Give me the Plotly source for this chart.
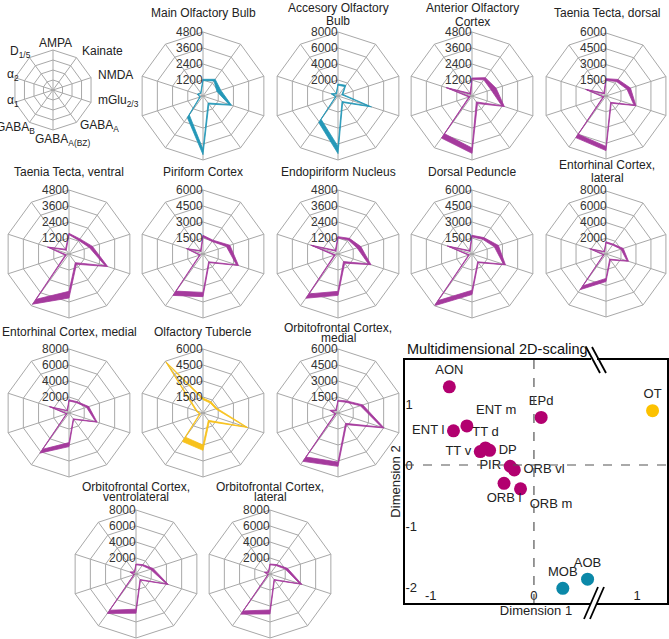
import plotly.graph_objects as go

W, H = 669, 639

RECEPTORS = ['AMPA', 'Kainate', 'NMDA', 'mGlu<sub>2/3</sub>', 'GABA<sub>A</sub>',
             'GABA<sub>A(BZ)</sub>', 'GABA<sub>B</sub>', 'α<sub>1</sub>', 'α<sub>2</sub>', 'D<sub>1/5</sub>']

# receptor densities, lower / upper edge of each band (order = RECEPTORS)
MOB_LO = [1150, 1400, 1100, 2050, 650, 4000, 1750, 200, 380, 250]
MOB_HI = [1250, 1550, 1400, 2250, 750, 4400, 2000, 260, 450, 300]
AOB_LO = [1350, 1450, 500, 4000, 850, 6300, 3600, 250, 700, 300]
AOB_HI = [1500, 1650, 650, 4400, 1000, 7200, 4100, 350, 900, 400]
AON_LO = [1250, 1500, 1500, 2350, 550, 3900, 3500, 150, 1900, 150]
AON_HI = [1350, 1700, 1900, 2550, 700, 4300, 3900, 250, 2050, 250]
TTD_LO = [1500, 1700, 2100, 2800, 750, 4800, 4500, 200, 1900, 250]
TTD_HI = [1650, 1950, 2450, 3000, 850, 5200, 4900, 300, 2050, 350]
TTV_LO = [1450, 1250, 1600, 2850, 800, 2800, 4200, 200, 1600, 350]
TTV_HI = [1550, 1400, 1850, 3050, 950, 3300, 4650, 300, 1700, 450]
PIR_LO = [1600, 1450, 2300, 3300, 900, 3600, 4300, 250, 1500, 300]
PIR_HI = [1750, 1600, 2650, 3500, 1000, 4000, 4800, 350, 1650, 400]
EPD_LO = [1200, 1300, 1500, 2400, 700, 2800, 3700, 200, 2000, 250]
EPD_HI = [1300, 1450, 1800, 2600, 850, 3100, 4100, 300, 2150, 350]
DP_LO = [1600, 1700, 2200, 3100, 900, 3400, 5400, 250, 2300, 300]
DP_HI = [1750, 1900, 2600, 3300, 1000, 3800, 6000, 350, 2450, 400]
ENTL_LO = [1400, 1400, 2000, 2800, 800, 3100, 5000, 250, 2000, 300]
ENTL_HI = [1550, 1550, 2300, 3000, 950, 3500, 5600, 350, 2200, 400]
ENTM_LO = [1500, 1600, 2300, 3500, 900, 3700, 5600, 250, 2400, 300]
ENTM_HI = [1650, 1750, 2600, 3700, 1000, 4200, 6200, 350, 2600, 400]
OT_LO = [1250, 1150, 1250, 4200, 850, 3000, 2800, 250, 550, 5700]
OT_HI = [1400, 1300, 1400, 4400, 1000, 3500, 3300, 350, 700, 6000]
ORBM_LO = [1100, 1250, 2200, 4300, 1200, 4600, 5100, 200, 650, 250]
ORBM_HI = [1200, 1400, 2450, 4550, 1350, 5000, 5600, 300, 800, 350]
ORBVL_LO = [1150, 1300, 1900, 4000, 850, 4400, 5600, 200, 650, 250]
ORBVL_HI = [1250, 1450, 2250, 4250, 950, 4900, 6100, 300, 800, 350]
ORBL_LO = [1150, 1300, 2000, 3900, 850, 4500, 5700, 200, 600, 250]
ORBL_HI = [1250, 1450, 2300, 4200, 950, 5000, 6200, 300, 750, 350]

REGIONS = ['MOB', 'AOB', 'AON', 'TTd', 'TTv', 'PIR', 'EPd', 'DP', 'ENTl', 'ENTm', 'OT', 'ORBm', 'ORBvl', 'ORBl']
TITLES = [['Main Olfactory Bulb'], ['Accesory Olfactory', 'Bulb'], ['Anterior Olfactory', 'Cortex'],
          ['Taenia Tecta, dorsal'], ['Taenia Tecta, ventral'], ['Piriform Cortex'], ['Endopiriform Nucleus'],
          ['Dorsal Peduncle'], ['Entorhinal Cortex,', 'lateral'], ['Entorhinal Cortex, medial'],
          ['Olfactory Tubercle'], ['Orbitofrontal Cortex,', 'medial'], ['Orbitofrontal Cortex,', 'ventrolateral'],
          ['Orbitofrontal Cortex,', 'lateral']]
SCALES = [4800, 8000, 4800, 6000, 4800, 6000, 4800, 6000, 8000, 8000, 6000, 6000, 8000, 8000]
GROUPS = ['bulb', 'bulb', 'ctx', 'ctx', 'ctx', 'ctx', 'ctx', 'ctx', 'ctx', 'ctx', 'ot', 'ctx', 'ctx', 'ctx']
LO = [MOB_LO, AOB_LO, AON_LO, TTD_LO, TTV_LO, PIR_LO, EPD_LO, DP_LO, ENTL_LO, ENTM_LO, OT_LO, ORBM_LO, ORBVL_LO, ORBL_LO]
HI = [MOB_HI, AOB_HI, AON_HI, TTD_HI, TTV_HI, PIR_HI, EPD_HI, DP_HI, ENTL_HI, ENTM_HI, OT_HI, ORBM_HI, ORBVL_HI, ORBL_HI]

# multidimensional scaling
MDS_LABELS = ['AON', 'ENT l', 'ENT m', 'TT d', 'DP', 'TT v', 'PIR', 'ORB vl', 'ORB l', 'ORB m', 'EPd', 'OT', 'MOB', 'AOB']
MDS_X = [-0.82, -0.78, -0.65, -0.47, -0.43, -0.52, -0.23, -0.19, -0.29, -0.13, 0.07, 1.15, 0.28, 0.52]
MDS_Y = [1.28, 0.56, 0.64, 0.28, 0.24, 0.22, -0.02, -0.08, -0.30, -0.39, 0.78, 0.89, -2.02, -1.87]
MDS_GROUP = ['ctx'] * 11 + ['ot', 'bulb', 'bulb']

# styling / layout
BAND = {'bulb': '#2598b8', 'ctx': '#a53a9d', 'ot': '#f8c21c'}
DOT = {'bulb': '#0b88a8', 'ctx': '#b2006f', 'ot': '#fcc100'}
GRID = '#a8a8a8'
FONT = 'Liberation Sans, Arial, sans-serif'
R = 64
CENTERS = [(203, 96), (338, 96), (472, 96), (607, 96),
           (69, 254), (203, 254), (338, 254), (472, 254), (607, 254),
           (69, 413), (203, 413), (338, 413),
           (136, 574), (270, 574)]
TITLE_Y = [[13], [8, 21], [8, 22], [13],
           [172], [172], [172], [172], [165, 178],
           [332], [332], [328, 338],
           [487, 497], [487, 497]]
TEXTPOS = ['top center', 'middle left', 'top right', 'top center', 'middle right', 'middle left',
           'middle left', 'middle right', 'bottom center', 'bottom right', 'top center', 'top center',
           'top center', 'top center']
# key chart: centre, radius and label anchor points (px)
KEY_C, KEY_R = (53, 90), 40
KEY_LABEL_POS = [(55, 43, 'center'), (80, 51, 'left'), (96, 75, 'left'), (96, 101, 'left'),
                 (78, 126, 'left'), (62, 140, 'center'), (37, 128, 'right'), (21, 101, 'right'),
                 (21, 75, 'right'), (33, 52, 'right')]


def px(x, y):
    return x / W, 1 - y / H


def dom(cx, cy, r):
    return dict(x=[max(0, (cx - r) / W), min(1, (cx + r) / W)],
                y=[max(0, 1 - (cy + r) / H), min(1, 1 - (cy - r) / H)])


def polar_cfg(cx, cy, r, mx):
    q = mx / 4
    return dict(
        domain=dom(cx, cy, r), bgcolor='white', gridshape='linear',
        angularaxis=dict(type='category', categoryarray=RECEPTORS, rotation=90, direction='clockwise',
                         showticklabels=False, ticks='', showgrid=True, gridcolor=GRID, gridwidth=1,
                         showline=True, linecolor=GRID, linewidth=1),
        radialaxis=dict(range=[0, mx], tickvals=[q, 2 * q, 3 * q, 4 * q], showticklabels=False,
                        ticks='', showline=False, gridcolor=GRID, gridwidth=1),
    )


def text(t, x, y, size=12, anchor='center', color='#222'):
    ax, ay = px(x, y)
    return dict(text=t, x=ax, y=ay, xref='paper', yref='paper', xanchor=anchor, yanchor='middle',
                showarrow=False, font=dict(size=size, color=color, family=FONT))


fig = go.Figure()
layout = {}
annotations = []

# key chart with receptor names
fig.add_trace(go.Scatterpolar(r=[0] * 10, theta=RECEPTORS, mode='lines', line=dict(width=0),
                              hoverinfo='skip', showlegend=False, subplot='polar'))
layout['polar'] = polar_cfg(KEY_C[0], KEY_C[1], KEY_R, 4)
for lab, (lx, ly, anc) in zip(RECEPTORS, KEY_LABEL_POS):
    annotations.append(text(lab, lx, ly, 12, anc))

for i, key in enumerate(REGIONS):
    name = 'polar%d' % (i + 2)
    lo, hi = LO[i], HI[i]
    # closed outer loop followed by reversed inner loop -> filled band
    r = hi + [hi[0]] + [lo[0]] + lo[::-1]
    th = RECEPTORS + [RECEPTORS[0]] + [RECEPTORS[0]] + RECEPTORS[::-1]
    col = BAND[GROUPS[i]]
    fig.add_trace(go.Scatterpolar(r=r, theta=th, mode='lines', fill='toself', fillcolor=col,
                                  line=dict(color=col, width=0.8), name=key, showlegend=False,
                                  subplot=name))
    cx, cy = CENTERS[i]
    layout[name] = polar_cfg(cx, cy, R, SCALES[i])
    for line, ty in zip(TITLES[i], TITLE_Y[i]):
        annotations.append(text(line, cx, ty, 12))
    # radial tick labels along the AMPA spoke
    q = SCALES[i] // 4
    for k in range(1, 5):
        annotations.append(text(str(q * k), cx + 2, cy - R * k / 4, 12, 'right', '#333'))

# MDS scatter
for g in ['ctx', 'ot', 'bulb']:
    idx = [k for k, gg in enumerate(MDS_GROUP) if gg == g]
    fig.add_trace(go.Scatter(
        x=[MDS_X[k] for k in idx], y=[MDS_Y[k] for k in idx],
        text=[MDS_LABELS[k] for k in idx], textposition=[TEXTPOS[k] for k in idx],
        mode='markers+text', marker=dict(size=13, color=DOT[g]),
        textfont=dict(size=13, color='#222', family=FONT), showlegend=False, cliponaxis=False))

x0, x1, y0, y1 = 405, 667, 360, 603
layout['xaxis'] = dict(domain=[x0 / W, x1 / W], range=[-1.25, 1.29], tickvals=[-1, 0, 1],
                       ticktext=['-1', '0', '1'], ticklabelposition='inside', ticks='',
                       showgrid=False, zeroline=False, showline=True, mirror=True, linecolor='black',
                       linewidth=2, tickfont=dict(size=13, color='#222', family=FONT),
                       title=dict(text='Dimension 1', font=dict(size=13, color='#222', family=FONT),
                                  standoff=4))
layout['yaxis'] = dict(domain=[1 - y1 / H, 1 - y0 / H], range=[-2.26, 1.72], tickvals=[-2, -1, 0, 1],
                       ticktext=['-2', '-1', '0', '1'], ticklabelposition='inside', ticks='',
                       showgrid=False, zeroline=False, showline=True, mirror=True, linecolor='black',
                       linewidth=2, tickfont=dict(size=13, color='#222', family=FONT),
                       title=dict(text='Dimension 2', font=dict(size=13, color='#222', family=FONT),
                                  standoff=2))

shapes = [
    dict(type='line', xref='x', yref='y domain', x0=0, x1=0, y0=0, y1=1,
         line=dict(color='#555', width=1.2, dash='dash')),
    dict(type='line', xref='x domain', yref='y', x0=0, x1=1, y0=0, y1=0,
         line=dict(color='#555', width=1.2, dash='dash')),
]
# axis break marks
for (bx0, by0, bx1, by1, gy) in [(586, 347, 600, 373, y0), (598, 587, 584, 619, y1)]:
    shapes.append(dict(type='line', xref='paper', yref='paper', x0=591 / W, x1=597 / W,
                       y0=1 - gy / H, y1=1 - gy / H, line=dict(color='white', width=4)))
    for dx in (0, 6):
        shapes.append(dict(type='line', xref='paper', yref='paper', x0=(bx0 + dx) / W, x1=(bx1 + dx) / W,
                           y0=1 - by0 / H, y1=1 - by1 / H, line=dict(color='black', width=1.8)))

annotations.append(text('Multidimensional 2D-scaling', x0, 349, 14.5, 'left', '#111'))

fig.update_layout(**layout)
fig.update_layout(width=W, height=H, margin=dict(l=0, r=0, t=0, b=0), paper_bgcolor='white',
                  plot_bgcolor='white', showlegend=False, annotations=annotations, shapes=shapes,
                  font=dict(family=FONT))

fig.write_html("out.html", config={'displayModeBar': False},
               post_script="document.body.style.margin='0px';")
